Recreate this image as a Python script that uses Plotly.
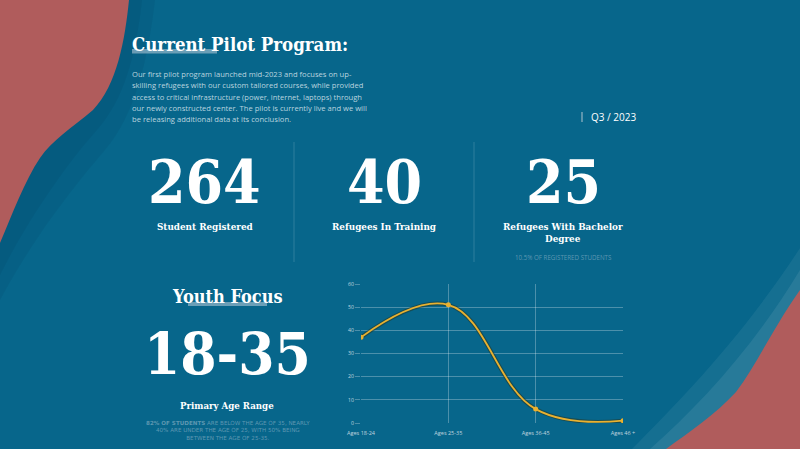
import plotly.graph_objects as go

W, H = 800, 449

# ---------------- data ----------------
age_groups = ["Ages 18-24", "Ages 25-35", "Ages 36-45", "Ages 46 +"]
age_counts = [37, 51, 6, 1]
y_ticks = [0, 10, 20, 30, 40, 50, 60]

stat_values = ["264", "40", "25"]
stat_labels = [["Student Registered"], ["Refugees In Training"], ["Refugees With Bachelor", "Degree"]]
stat_note = "10.5% OF REGISTERED STUDENTS"

title_text = "Current Pilot Program:"
para_lines = [
    "Our first pilot program launched mid-2023 and focuses on up-",
    "skilling refugees with our custom tailored courses, while provided",
    "access to critical infrastructure (power, internet, laptops) through",
    "our newly constructed center. The pilot is currently live and we will",
    "be releasing additional data at its conclusion.",
]
period_text = "Q3 / 2023"
youth_title = "Youth Focus"
youth_range = "18-35"
youth_label = "Primary Age Range"
youth_note_lines = [
    "<b>82% OF STUDENTS</b> ARE BELOW THE AGE OF 35, NEARLY",
    "40% ARE UNDER THE AGE OF 25, WITH 50% BEING",
    "BETWEEN THE AGE OF 25-35.",
]

# ---------------- styling ----------------
BG = "#07668B"
RED = "#B05C5C"
GOLD = "#E9B130"
WHITE = "#FFFFFF"
SERIF = "DejaVu Serif Condensed, DejaVu Serif, serif"
NUMF = "DejaVu Serif Condensed, DejaVu Serif, serif"
SANS = "Open Sans, sans-serif"
WIDE = "DejaVu Sans, sans-serif"
FAINT = "rgba(200,215,225,0.45)"


def X(x):
    return x / W


def Y(y):
    return 1 - y / H


def path(cmds):
    out = []
    for c in cmds:
        if isinstance(c, str):
            out.append(c)
        else:
            out.append(f"{X(c[0]):.5f},{Y(c[1]):.5f}")
    return " ".join(out)


fig = go.Figure()

# shadow under line
fig.add_trace(go.Scatter(
    x=age_groups, y=age_counts, mode="lines",
    line=dict(shape="spline", smoothing=1.15, color="rgba(40,55,35,0.55)", width=4),
    hoverinfo="skip",
))
fig.add_trace(go.Scatter(
    x=age_groups, y=age_counts, mode="lines+markers",
    line=dict(shape="spline", smoothing=1.15, color=GOLD, width=1.8),
    marker=dict(size=5, color=GOLD),
))

shapes = []
# left halftone band (dark)
shapes.append(dict(type="path", xref="paper", yref="paper", layer="below",
    path=path(["M", (0, 0), "L", (155, 0), "C", (148, 60), (135, 115), (105, 150),
               "C", (75, 185), (35, 235), (0, 300), "Z"]),
    fillcolor="rgba(0,35,55,0.07)", line=dict(width=0)))
shapes.append(dict(type="path", xref="paper", yref="paper", layer="below",
    path=path(["M", (0, 0), "L", (142, 0), "C", (136, 55), (124, 100), (97, 130),
               "C", (70, 160), (30, 215), (0, 275), "Z"]),
    fillcolor="rgba(0,35,55,0.07)", line=dict(width=0)))
# left red shape
shapes.append(dict(type="path", xref="paper", yref="paper", layer="below",
    path=path(["M", (0, 0), "L", (129, 0), "C", (125, 40), (117, 85), (93, 110),
               "C", (72, 128), (52, 140), (40, 158), "C", (25, 180), (12, 215), (0, 243), "Z"]),
    fillcolor=RED, line=dict(width=0)))
# right halftone bands (light)
shapes.append(dict(type="path", xref="paper", yref="paper", layer="below",
    path=path(["M", (632, 449), "C", (680, 400), (740, 340), (800, 248), "L", (800, 449), "Z"]),
    fillcolor="rgba(255,255,255,0.06)", line=dict(width=0)))
shapes.append(dict(type="path", xref="paper", yref="paper", layer="below",
    path=path(["M", (650, 449), "C", (700, 405), (755, 345), (800, 270), "L", (800, 449), "Z"]),
    fillcolor="rgba(255,255,255,0.08)", line=dict(width=0)))
# right red shape
shapes.append(dict(type="path", xref="paper", yref="paper", layer="below",
    path=path(["M", (666, 449), "C", (688, 433), (716, 414), (736, 392),
               "C", (756, 366), (770, 333), (800, 290), "L", (800, 449), "Z"]),
    fillcolor=RED, line=dict(width=0)))
# underline highlight bars
shapes.append(dict(type="rect", xref="paper", yref="paper", layer="below",
    x0=X(132), x1=X(217), y0=Y(53.5), y1=Y(49),
    fillcolor="rgba(190,205,220,0.55)", line=dict(width=0)))
shapes.append(dict(type="rect", xref="paper", yref="paper", layer="below",
    x0=X(188), x1=X(267), y0=Y(306), y1=Y(302),
    fillcolor="rgba(190,205,220,0.55)", line=dict(width=0)))
# vertical dividers
for xd in (294, 474):
    shapes.append(dict(type="line", xref="paper", yref="paper", layer="below",
        x0=X(xd), x1=X(xd), y0=Y(142), y1=Y(262),
        line=dict(color="rgba(255,255,255,0.16)", width=1)))
# bar before period
shapes.append(dict(type="line", xref="paper", yref="paper", layer="below",
    x0=X(582), x1=X(582), y0=Y(112), y1=Y(122),
    line=dict(color="rgba(210,215,220,0.7)", width=1.2)))

ann = []


def add_text(text, x, y, size, family, color=WHITE, xanchor="center", yanchor="middle",
             weight="normal", align="center"):
    ann.append(dict(text=text, x=X(x), y=Y(y), xref="paper", yref="paper",
                    xanchor=xanchor, yanchor=yanchor, showarrow=False, align=align,
                    font=dict(size=size, family=family, color=color, weight=weight)))


add_text(title_text, 130, 44, 18.5, SERIF, weight="bold", xanchor="left")
for i, line in enumerate(para_lines):
    add_text(line, 130, 74 + 11.3 * i, 7.6, SANS, color="rgba(215,228,236,0.88)",
             xanchor="left", align="left")
add_text(period_text, 589, 117, 10, SANS, xanchor="left")

for val, lab, cx in zip(stat_values, stat_labels, (205, 384, 563)):
    add_text(val, cx, 182, 60, NUMF, weight="bold")
    for j, l in enumerate(lab):
        add_text(l, cx, 226 + 12 * j, 9.8, SERIF, weight="bold")
add_text(stat_note, 563, 257, 6.2, SANS, color=FAINT)

add_text(youth_title, 228, 296, 18, SERIF, weight="bold")
add_text(youth_range, 227, 354, 58, NUMF, weight="bold")
add_text(youth_label, 227, 405, 9.6, SERIF, weight="bold")
add_text("<br>".join(youth_note_lines), 228, 430.5, 5.6, WIDE, color=FAINT)

GRID = "rgba(255,255,255,0.28)"
TICKC = "rgba(235,240,245,0.8)"

fig.update_layout(
    width=W, height=H,
    margin=dict(l=0, r=0, t=0, b=0, pad=0, autoexpand=False),
    paper_bgcolor=BG, plot_bgcolor="rgba(0,0,0,0)",
    showlegend=False,
    shapes=shapes, annotations=ann,
    xaxis=dict(domain=[X(361), X(623)], type="category", range=[0, 3], automargin=False,
               showgrid=True, gridcolor=GRID, gridwidth=1, zeroline=False, showline=False,
               ticks="", ticklabelstandoff=5,
               tickfont=dict(size=5.5, color=TICKC, family=SANS), fixedrange=True),
    yaxis=dict(domain=[Y(423), Y(284)], range=[0, 60], tickvals=y_ticks, automargin=False,
               showgrid=True, gridcolor=GRID, gridwidth=1, zeroline=False, showline=False,
               ticks="outside", ticklen=5, tickcolor=GRID,
               tickfont=dict(size=5.2, color=TICKC, family=SANS), fixedrange=True),
)

page_css = ("html,body{margin:0!important;padding:0!important;width:800px;height:449px;"
            "overflow:hidden;background:" + BG + ";}"
            "body>div{width:800px;height:449px;overflow:hidden;}")
post = ("var s=document.createElement('style');s.textContent='" + page_css + "';"
        "document.head.appendChild(s);")

fig.write_html("out.html", post_script=post,
               config={"displayModeBar": False, "staticPlot": True})
